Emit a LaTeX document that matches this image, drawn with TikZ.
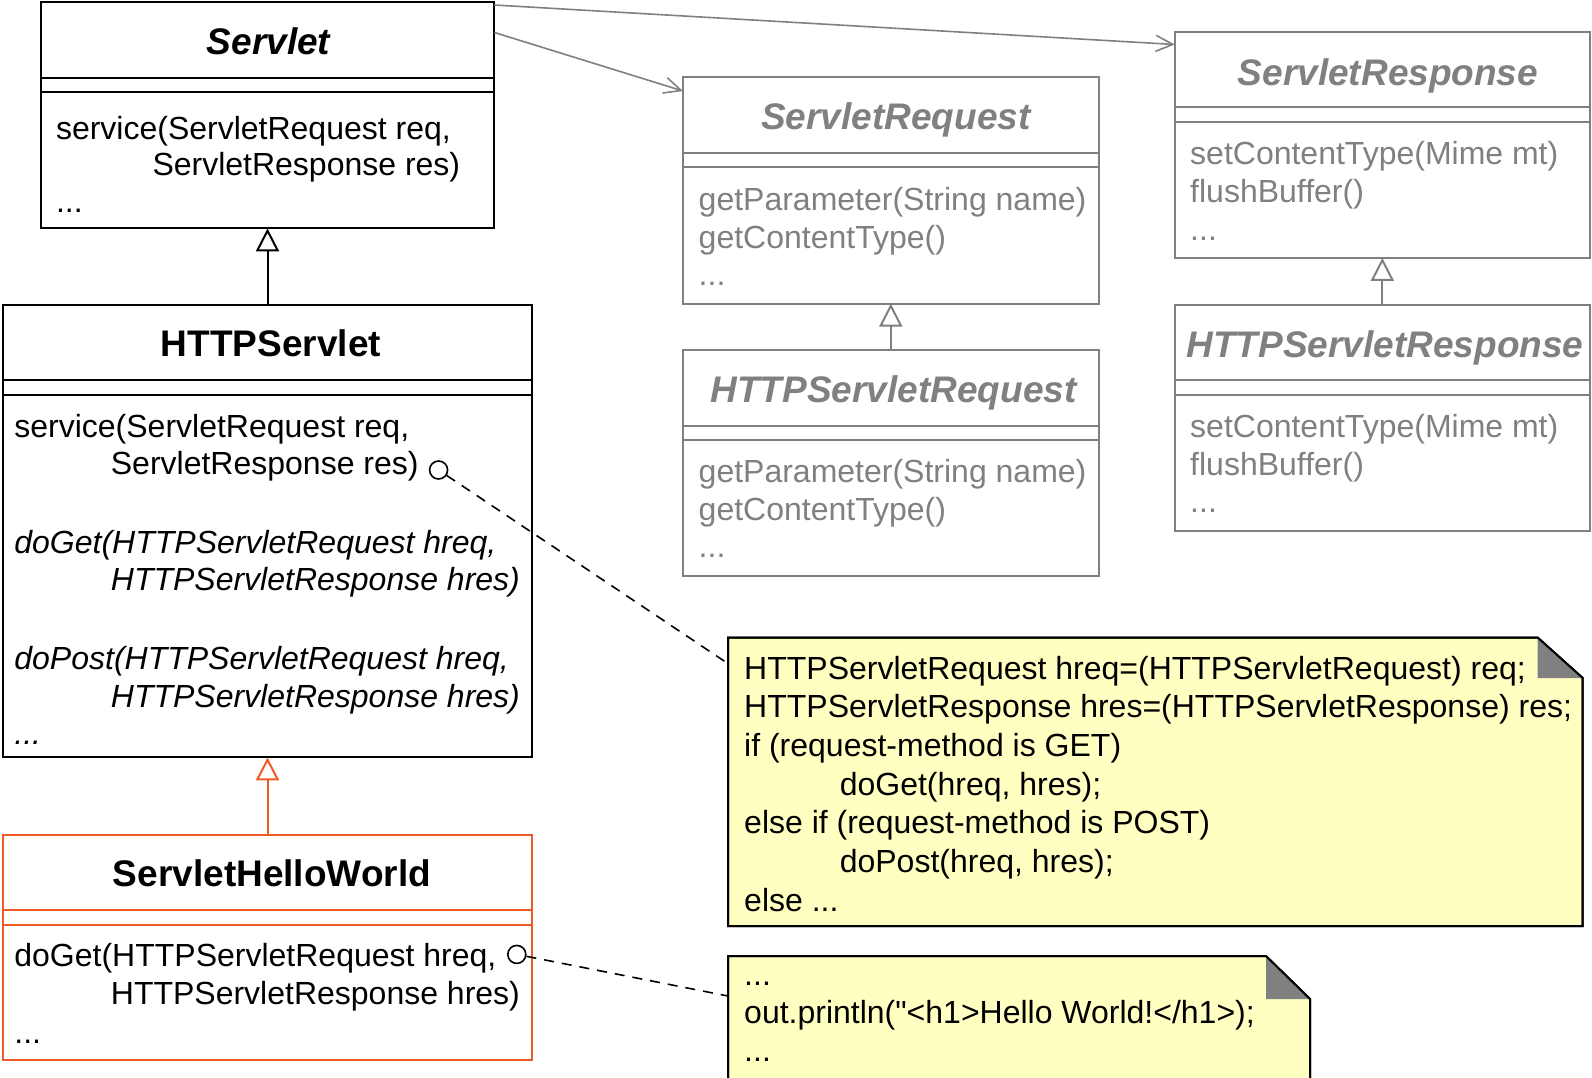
\documentclass[tikz,border=0pt]{standalone}
\usepackage{fontspec}
\setmainfont{Liberation Sans}[Ligatures=TeXOff]
\usetikzlibrary{arrows.meta,calc}
\definecolor{cgray}{RGB}{128,128,128}
\definecolor{corange}{RGB}{241,90,36}
\definecolor{cnote}{RGB}{255,255,194}
\newcommand\mybox[6]{%
  \node[box, draw=#6, minimum width=#4pt, minimum height=#5pt] (#1) at (#2,#3) {};
  \draw[#6, line width=2pt] ($(#1.north west)+(0,75.5)$) -- ($(#1.north east)+(0,75.5)$);
  \draw[#6, line width=2pt] ($(#1.north west)+(0,90)$) -- ($(#1.north east)+(0,90)$);
}
\begin{document}
\begin{tikzpicture}[x=1pt,y=-1pt,
  box/.style={draw, line width=2pt, inner sep=0pt, outer sep=0pt, anchor=north west},
  optext/.style={anchor=base west, inner sep=0pt, font=\fontsize{32}{38}\selectfont},
  ttl/.style={anchor=base, inner sep=0pt, font=\fontsize{37}{44}\selectfont\bfseries},
  gen/.style={-{Triangle[length=23pt,width=23pt,fill=white]}, line width=2pt},
  dep/.style={-{Straight Barb[length=17pt,width=16pt]}, line width=1.6pt, draw=cgray},
  lollipop/.style={circle, draw, line width=1.6pt, minimum size=18pt, inner sep=0pt, fill=white},
  noteline/.style={dash pattern=on 10pt off 8pt, line width=1.6pt},
  notebody/.style={fill=cnote, draw=black, line width=2pt, line join=miter},
  anchorbox/.style={inner sep=0pt, outer sep=0pt, anchor=north west}
]
\useasboundingbox (0,0) rectangle (1592,1077);
\fill[white] (0,0) rectangle (1592,1077);
\clip (0,0) rectangle (1592,1077);

% ---------- class boxes ----------
\mybox{servlet}{40.6}{2}{453.8}{226.4}{black}
\mybox{http}{3}{304.6}{529}{452.8}{black}
\mybox{shw}{3}{834.6}{529}{225.4}{corange}
\mybox{sreq}{683}{77}{415.6}{226.6}{cgray}
\mybox{hreq}{683}{350}{415.6}{225.7}{cgray}
\mybox{sresp}{1174.7}{31.5}{415.3}{226.4}{cgray}
\mybox{hresp}{1174.7}{304.6}{415.3}{226.4}{cgray}

% ---------- titles ----------
\node[ttl] (tservlet) at (268.5,54.5) {\itshape Servlet};
\node[ttl] (thttp) at (271,356.5) {HTTPServlet};
\node[ttl] (tshw) at (272,886) {ServletHelloWorld};
\node[ttl, text=cgray] (tsreq) at (896,129.5) {\itshape ServletRequest};
\node[ttl, text=cgray] (threq) at (893.5,402) {\itshape HTTPServletRequest};
\node[ttl, text=cgray] (tsresp) at (1388,85) {\itshape ServletResponse};
\node[ttl, text=cgray] (thresp) at (1385,357) {\itshape HTTPServletResponse};

% ---------- operations ----------
\node[optext] (os1) at (55.8,139) {service(ServletRequest req,};
\node[optext] (os2) at (152.3,175.5) {ServletResponse res)};
\node[optext] (os3) at (55.8,212.5) {...};

\node[optext] (oh1) at (14.2,437) {service(ServletRequest req,};
\node[optext] (oh2) at (110.7,474.5) {ServletResponse res)};
\node[optext] (oh3) at (14.2,553) {\itshape doGet(HTTPServletRequest hreq,};
\node[optext] (oh4) at (110.7,590.5) {\itshape HTTPServletResponse hres)};
\node[optext] (oh5) at (14.2,669) {\itshape doPost(HTTPServletRequest hreq,};
\node[optext] (oh6) at (110.7,707) {\itshape HTTPServletResponse hres)};
\node[optext] (oh7) at (14.2,744) {\itshape ...};

\node[optext] (ow1) at (14.2,966) {doGet(HTTPServletRequest hreq,};
\node[optext] (ow2) at (110.7,1004.5) {HTTPServletResponse hres)};
\node[optext] (ow3) at (14.2,1043) {...};

\node[optext, text=cgray] (oq1) at (698.5,210) {getParameter(String name)};
\node[optext, text=cgray] (oq2) at (698.5,248) {getContentType()};
\node[optext, text=cgray] (oq3) at (698.5,285.5) {...};

\node[optext, text=cgray] (ohq1) at (698.5,482) {getParameter(String name)};
\node[optext, text=cgray] (ohq2) at (698.5,520) {getContentType()};
\node[optext, text=cgray] (ohq3) at (698.5,557.5) {...};

\node[optext, text=cgray] (or1) at (1190,164) {setContentType(Mime mt)};
\node[optext, text=cgray] (or2) at (1190,202.5) {flushBuffer()};
\node[optext, text=cgray] (or3) at (1190,240) {...};

\node[optext, text=cgray] (ohr1) at (1190,437) {setContentType(Mime mt)};
\node[optext, text=cgray] (ohr2) at (1190,475) {flushBuffer()};
\node[optext, text=cgray] (ohr3) at (1190,512.5) {...};

% ---------- generalizations ----------
\draw[gen] (http.north) -- (servlet.south);
\draw[gen, corange] (shw.north) -- (http.south);
\draw[gen, cgray] (hreq.north) -- (sreq.south);
\draw[gen, cgray] (hresp.north) -- (sresp.south);

% ---------- dependencies ----------
\coordinate (d1s) at ($(servlet.north east)+(0,30.5)$);
\coordinate (d1e) at ($(sreq.north west)+(0,14)$);
\coordinate (d2s) at ($(servlet.north east)+(0,3)$);
\coordinate (d2e) at ($(sresp.north west)+(0,13)$);
\draw[dep] (d1s) -- (d1e);
\draw[dep] (d2s) -- (d2e);

% ---------- notes ----------
\node[anchorbox, minimum width=854.7pt, minimum height=288.4pt] (note1) at (728,637.6) {};
\path[notebody] (note1.north west) -- ($(note1.north east)+(-45,0)$) -- ($(note1.north east)+(0,40.4)$) -- (note1.south east) -- (note1.south west) -- cycle;
\fill[cgray] ($(note1.north east)+(-45,0)$) -- ($(note1.north east)+(-45,40.4)$) -- ($(note1.north east)+(0,40.4)$) -- cycle;
\draw[line width=2pt, line join=miter] (note1.north west) -- ($(note1.north east)+(-45,0)$) -- ($(note1.north east)+(0,40.4)$) -- (note1.south east) -- (note1.south west) -- cycle;

\node[optext] (n1a) at (744,679) {HTTPServletRequest hreq=(HTTPServletRequest) req;};
\node[optext] (n1b) at (744,717.7) {HTTPServletResponse hres=(HTTPServletResponse) res;};
\node[optext] (n1c) at (744,756.4) {if (request-method is GET)};
\node[optext] (n1d) at (839.6,795) {doGet(hreq, hres);};
\node[optext] (n1e) at (744,833.8) {else if (request-method is POST)};
\node[optext] (n1f) at (839.6,872.5) {doPost(hreq, hres);};
\node[optext] (n1g) at (744,911) {else ...};

\node[anchorbox, minimum width=582pt, minimum height=150pt] (note2) at (728,956) {};
\path[notebody] (note2.north west) -- ($(note2.north east)+(-44,0)$) -- ($(note2.north east)+(0,43)$) -- (note2.south east) -- (note2.south west) -- cycle;
\fill[cgray] ($(note2.north east)+(-44,0)$) -- ($(note2.north east)+(-44,43)$) -- ($(note2.north east)+(0,43)$) -- cycle;
\draw[line width=2pt, line join=miter] (note2.north west) -- ($(note2.north east)+(-44,0)$) -- ($(note2.north east)+(0,43)$) -- (note2.south east) -- (note2.south west) -- cycle;

\node[optext] (n2a) at (744,985) {...};
\node[optext] (n2b) at (744,1023) {out.println("<h1>Hello World!</h1>);};
\node[optext] (n2c) at (744,1061) {...};

% ---------- note attachments ----------
\node[lollipop] (c1) at (438.6,470) {};
\node[lollipop] (c2) at (516.8,954.4) {};
\coordinate (n1in) at ($(note1.north west)+(0,26)$);
\coordinate (n2in) at ($(note2.north west)+(0,40)$);
\draw[noteline] (c1) -- (n1in);
\draw[noteline] (c2) -- (n2in);
\end{tikzpicture}
\end{document}
